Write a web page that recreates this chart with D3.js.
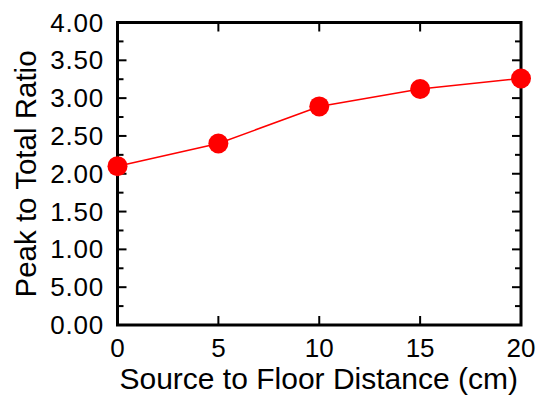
<!DOCTYPE html>
<html>
<head>
<meta charset="utf-8">
<script src="https://cdn.jsdelivr.net/npm/d3@7"></script>
<style>
  html, body { margin: 0; padding: 0; background: #fff; }
  svg { display: block; font-family: "Liberation Sans", Arial, Helvetica, sans-serif; }
</style>
</head>
<body>
<svg id="chart" width="541" height="399"></svg>
<script>
// Source-to-floor distance (cm) and the measured peak-to-total ratio
const distances = [0, 5, 10, 15, 20];
const ratios = [2.10, 2.40, 2.89, 3.12, 3.26];

// Axis tick values and their printed labels
const xTicks = [0, 5, 10, 15, 20];
const yTicks = [0, 0.5, 1, 1.5, 2, 2.5, 3, 3.5, 4];
const yTickLabels = ["0.00", "5.00", "1.00", "1.50", "2.00", "2.50", "3.00", "3.50", "4.00"];
const yMinorTicks = [0.25, 0.75, 1.25, 1.75, 2.25, 2.75, 3.25, 3.75];

const xTitle = "Source to Floor Distance (cm)";
const yTitle = "Peak to Total Ratio";

const svg = d3.select("#chart");
const plot = { left: 117.5, right: 521, top: 22.5, bottom: 325 };

const x = d3.scaleLinear().domain([0, 20]).range([plot.left, plot.right]);
const y = d3.scaleLinear().domain([0, 4]).range([plot.bottom, plot.top]);

const majorLen = 9, minorLen = 6;

// Inward ticks on all four sides
const ticks = svg.append("g").attr("stroke", "#000").attr("stroke-width", 2);
yTicks.forEach(v => {
  ticks.append("line").attr("x1", plot.left).attr("x2", plot.left + majorLen).attr("y1", y(v)).attr("y2", y(v));
  ticks.append("line").attr("x1", plot.right).attr("x2", plot.right - majorLen).attr("y1", y(v)).attr("y2", y(v));
});
yMinorTicks.forEach(v => {
  ticks.append("line").attr("x1", plot.left).attr("x2", plot.left + minorLen).attr("y1", y(v)).attr("y2", y(v));
  ticks.append("line").attr("x1", plot.right).attr("x2", plot.right - minorLen).attr("y1", y(v)).attr("y2", y(v));
});
xTicks.forEach(v => {
  ticks.append("line").attr("x1", x(v)).attr("x2", x(v)).attr("y1", plot.bottom).attr("y2", plot.bottom - majorLen);
  ticks.append("line").attr("x1", x(v)).attr("x2", x(v)).attr("y1", plot.top).attr("y2", plot.top + majorLen);
});

// Frame
svg.append("rect")
  .attr("x", plot.left).attr("y", plot.top)
  .attr("width", plot.right - plot.left).attr("height", plot.bottom - plot.top)
  .attr("fill", "none").attr("stroke", "#000").attr("stroke-width", 3);

// Tick labels
svg.append("g").selectAll("text").data(yTicks).join("text")
  .attr("x", 104).attr("y", d => y(d))
  .attr("dy", "0.35em")
  .attr("text-anchor", "end")
  .attr("font-size", 26)
  .attr("letter-spacing", 0.8)
  .text((d, i) => yTickLabels[i]);

svg.append("g").selectAll("text").data(xTicks).join("text")
  .attr("x", d => x(d)).attr("y", 357)
  .attr("text-anchor", "middle")
  .attr("font-size", 26)
  .text(d => d);

// Axis titles
svg.append("text")
  .attr("x", 318.7).attr("y", 389)
  .attr("text-anchor", "middle")
  .attr("font-size", 30)
  .text(xTitle);

svg.append("text")
  .attr("transform", `translate(36,${174}) rotate(-90)`)
  .attr("text-anchor", "middle")
  .attr("font-size", 29.5)
  .text(yTitle);

// Series line and markers
const line = d3.line().x((d, i) => x(distances[i])).y(d => y(d));
svg.append("path").datum(ratios)
  .attr("d", line)
  .attr("fill", "none").attr("stroke", "#ff0000").attr("stroke-width", 1.5);

svg.append("g").selectAll("circle").data(ratios).join("circle")
  .attr("cx", (d, i) => x(distances[i])).attr("cy", d => y(d))
  .attr("r", 10).attr("fill", "#ff0000");
</script>
</body>
</html>
